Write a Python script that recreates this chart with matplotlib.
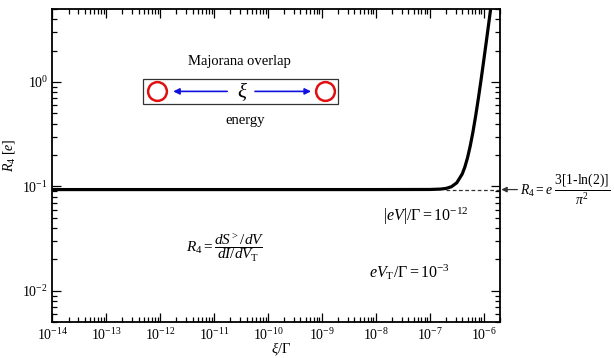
import numpy as np
import matplotlib
matplotlib.use("Agg")
import matplotlib.pyplot as plt
from matplotlib.ticker import LogLocator, NullFormatter
import matplotlib.transforms as mtransforms

plt.rcParams['font.family'] = ['Liberation Serif', 'DejaVu Serif']
plt.rcParams['mathtext.fontset'] = 'custom'
plt.rcParams['mathtext.rm'] = 'Liberation Serif'
plt.rcParams['mathtext.it'] = 'Liberation Serif:italic'
plt.rcParams['mathtext.bf'] = 'Liberation Serif:bold'

# Data
xi = [1e-14, 1e-12, 1e-10, 1e-8, 1e-7, 1.585e-7, 1.995e-7, 2.512e-7, 3.162e-7,
      3.981e-7, 4.467e-7, 5.012e-7, 5.623e-7, 6.310e-7, 7.079e-7, 7.943e-7,
      8.913e-7, 1.0e-6, 1.122e-6, 1.259e-6, 1.413e-6]
R4 = [0.0933, 0.0933, 0.0933, 0.0933, 0.0935, 0.0943, 0.0957, 0.0993, 0.1084,
      0.1313, 0.1536, 0.1888, 0.245, 0.333, 0.473, 0.696,
      1.048, 1.607, 2.49, 3.89, 6.12]
R4_limit = 0.0933
dash_x = [2e-7, 2e-6]
x_ticks = [1e-14, 1e-13, 1e-12, 1e-11, 1e-10, 1e-9, 1e-8, 1e-7, 1e-6]

fig = plt.figure(figsize=(6.14, 3.58), dpi=100)
ax = fig.add_axes([0.0852, 0.0997, 0.7291, 0.8752])

ax.plot(dash_x, [R4_limit, R4_limit], ls=(0, (3, 2)), color='#333333', lw=0.9, zorder=2)
ax.plot(xi, R4, color='black', lw=2.3, zorder=3, solid_capstyle='butt')

ax.set_xscale('log')
ax.set_yscale('log')
ax.set_xlim(1e-14, 2e-6)
ax.set_ylim(0.005, 5)
ax.set_xticks(x_ticks)
ax.xaxis.set_minor_locator(LogLocator(base=10, subs=np.arange(2, 10), numticks=30))
ax.yaxis.set_minor_locator(LogLocator(base=10, subs=np.arange(2, 10), numticks=30))
ax.xaxis.set_minor_formatter(NullFormatter())
ax.yaxis.set_minor_formatter(NullFormatter())

for s in ax.spines.values():
    s.set_linewidth(1.3)
ax.tick_params(which='both', direction='in', top=True, right=True, width=0.9)
ax.tick_params(which='major', length=6.5, labelsize=10)
ax.tick_params(which='minor', length=3.6)
ax.tick_params(axis='x', which='major', pad=3.5)
ax.tick_params(axis='y', which='major', pad=3)

ax.set_xlabel(r'$\xi/\mathit{\Gamma}$', fontsize=10.5)
ax.set_ylabel(r'$R_4\ [e]$', fontsize=10)
ax.xaxis.set_label_coords(0.511, -0.058)
ax.yaxis.set_label_coords(-0.079, 0.534)

# inset schematic
ax.text(0.419, 0.831, 'Majorana overlap', transform=ax.transAxes, ha='center', va='center', fontsize=10.5)
ax.text(0.430, 0.643, 'energy', transform=ax.transAxes, ha='center', va='center', fontsize=10.5)
rect = plt.Rectangle((0.2028, 0.697), 0.4355, 0.0796, transform=ax.transAxes,
                     fill=False, edgecolor='#333333', lw=0.9)
ax.add_patch(rect)
ax.plot([0.2339, 0.6093], [0.737, 0.737], 'o', transform=ax.transAxes, ms=13.5,
        mfc='none', mec='#e01010', mew=1.8, clip_on=False)
ax.text(0.4237, 0.735, r'$\xi$', transform=ax.transAxes, ha='center', va='center', fontsize=15)
ax.annotate('', xy=(0.2700, 0.737), xytext=(0.3906, 0.737), xycoords='axes fraction',
            arrowprops=dict(arrowstyle='-|>', color='#1010e0', lw=1.2, mutation_scale=9,
                            shrinkA=0, shrinkB=0))
ax.annotate('', xy=(0.5779, 0.737), xytext=(0.4528, 0.737), xycoords='axes fraction',
            arrowprops=dict(arrowstyle='-|>', color='#1010e0', lw=1.2, mutation_scale=9,
                            shrinkA=0, shrinkB=0))

# formulas
ax.text(0.386, 0.236, r'$R_4 = \dfrac{dS^{>}/dV}{dI/dV_\mathrm{T}}$', transform=ax.transAxes,
        ha='center', va='center', fontsize=11)
ax.text(0.835, 0.337, r'$|eV|/\mathit{\Gamma} = 10^{-12}$', transform=ax.transAxes,
        ha='center', va='center', fontsize=11.5)
ax.text(0.797, 0.160, r'$eV_\mathrm{T}/\mathit{\Gamma} = 10^{-3}$', transform=ax.transAxes,
        ha='center', va='center', fontsize=11.5)

# limit annotation outside the axes
trans = mtransforms.blended_transform_factory(ax.transAxes, ax.transData)
ax.annotate(r'$R_4 = e\ \dfrac{3[1\text{-}\mathrm{ln}(2)]}{\pi^2}$', xy=(1.003, R4_limit),
            xycoords=trans, xytext=(1.045, R4_limit), textcoords=trans,
            ha='left', va='center', fontsize=9.8, annotation_clip=False,
            arrowprops=dict(arrowstyle='-|>', color='#333333', lw=0.9, mutation_scale=8,
                            shrinkA=0, shrinkB=0))

fig.savefig('out.png', dpi=100)
